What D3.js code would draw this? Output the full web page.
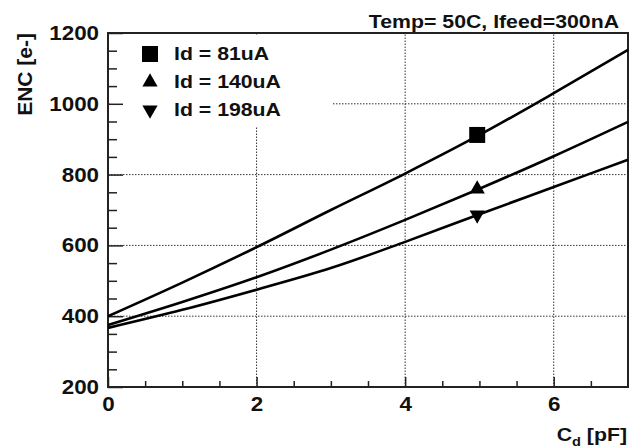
<!DOCTYPE html>
<html>
<head>
<meta charset="utf-8">
<script src="https://cdn.jsdelivr.net/npm/d3@7"></script>
<style>
  html, body { margin: 0; padding: 0; background: #fff; }
  svg { display: block; }
  text { font-family: "Liberation Sans", Arial, sans-serif; font-weight: bold; fill: #111; }
</style>
</head>
<body>
<svg width="640" height="448"></svg>
<script>
// Detector capacitance (pF) and noise readings for each drain current
let cd = [0, 1, 2, 3, 4, 5, 6, 7];
let enc81 = [400, 495, 595, 700, 803, 912, 1030, 1152];
let enc140 = [375, 440, 510, 588, 672, 760, 852, 949];
let enc198 = [367, 418, 475, 536, 610, 688, 765, 842];

// measured points
let markerCd = [4.97, 4.97, 4.97];
let markerEnc = [912, 759, 686];

let seriesNames = ["Id = 81uA", "Id = 140uA", "Id = 198uA"];
let xTicks = [0, 2, 4, 6];
let yTicks = [200, 400, 600, 800, 1000, 1200];

let svg = d3.select("svg");
let stretch = "scale(1.12,1)";

let x = d3.scaleLinear().domain([0, 7]).range([108, 628]);
let y = d3.scaleLinear().domain([200, 1200]).range([387, 33]);

// dotted grid
let grid = svg.append("g")
  .attr("stroke", "#333")
  .attr("stroke-width", 1)
  .attr("stroke-dasharray", "1.5,1.5");

grid.selectAll(".gx")
  .data(xTicks.filter(d => d > 0))
  .enter()
  .append("line")
  .attr("x1", d => x(d))
  .attr("x2", d => x(d))
  .attr("y1", y(200))
  .attr("y2", y(1200));

grid.selectAll(".gy")
  .data(yTicks.filter(d => d > 200 && d < 1200))
  .enter()
  .append("line")
  .attr("x1", x(0))
  .attr("x2", x(7))
  .attr("y1", d => y(d))
  .attr("y2", d => y(d));

// legend background hides the grid behind it
svg.append("rect")
  .attr("x", 110)
  .attr("y", 35)
  .attr("width", 223)
  .attr("height", 91)
  .attr("fill", "#fff");

// axes
let yAxis = svg.append("g")
  .attr("transform", "translate(" + x(0) + ",0)")
  .call(d3.axisLeft(y).tickValues(yTicks).tickFormat(d3.format("d"))
    .tickSizeInner(-15).tickSizeOuter(0).tickPadding(8));

svg.append("g")
  .attr("transform", "translate(" + x(0) + ",0)")
  .call(d3.axisLeft(y).tickValues(d3.range(250, 1200, 50).filter(d => d % 200 != 0))
    .tickSizeInner(-9).tickSizeOuter(0).tickFormat(""));

let xAxis = svg.append("g")
  .attr("transform", "translate(0," + y(200) + ")")
  .call(d3.axisBottom(x).tickValues(xTicks).tickFormat(d3.format("d"))
    .tickSizeInner(-10).tickSizeOuter(0).tickPadding(10));

svg.append("g")
  .attr("transform", "translate(0," + y(200) + ")")
  .call(d3.axisBottom(x).tickValues([0.5, 1, 1.5, 2.5, 3, 3.5, 4.5, 5, 5.5, 6.5])
    .tickSizeInner(-6).tickSizeOuter(0).tickFormat(""));

svg.selectAll(".tick line").attr("stroke", "#222").attr("stroke-width", 1.5);
svg.selectAll(".domain").remove();

yAxis.selectAll("text")
  .attr("font-size", 20)
  .attr("font-family", "Liberation Sans, Arial, sans-serif")
  .attr("transform", stretch);
xAxis.selectAll("text")
  .attr("font-size", 20)
  .attr("font-family", "Liberation Sans, Arial, sans-serif")
  .attr("transform", stretch);

// frame
svg.append("rect")
  .attr("x", x(0))
  .attr("y", y(1200))
  .attr("width", x(7) - x(0))
  .attr("height", y(200) - y(1200))
  .attr("fill", "none")
  .attr("stroke", "#222")
  .attr("stroke-width", 2);

// curves
let line = d3.line()
  .x(d => x(d[0]))
  .y(d => y(d[1]))
  .curve(d3.curveMonotoneX);

[enc81, enc140, enc198].forEach(function(s) {
  svg.append("path")
    .attr("d", line(cd.map((c, i) => [c, s[i]])))
    .attr("fill", "none")
    .attr("stroke", "#000")
    .attr("stroke-width", 2.6);
});

// marker shapes: square, up triangle, down triangle
let shapes = [
  { type: d3.symbolSquare, size: 256, rot: 0 },
  { type: d3.symbolTriangle, size: 100, rot: 0 },
  { type: d3.symbolTriangle, size: 100, rot: 180 }
];

svg.selectAll(".marker")
  .data(markerEnc)
  .enter()
  .append("path")
  .attr("class", "marker")
  .attr("d", (d, i) => d3.symbol().type(shapes[i].type).size(shapes[i].size)())
  .attr("transform", (d, i) => "translate(" + x(markerCd[i]) + "," + y(d) + ") rotate(" + shapes[i].rot + ")")
  .attr("fill", "#000");

// legend
let legend = svg.append("g");
seriesNames.forEach(function(name, i) {
  let cy = 54 + i * 28;
  legend.append("path")
    .attr("d", d3.symbol().type(shapes[i].type).size(shapes[i].size)())
    .attr("transform", "translate(150," + cy + ") rotate(" + shapes[i].rot + ")")
    .attr("fill", "#000");
  legend.append("g")
    .attr("transform", "translate(174," + (cy + 6) + ") " + stretch)
    .append("text")
    .attr("font-size", 19)
    .text(name);
});

// title
svg.append("g")
  .attr("transform", "translate(619,28) " + stretch)
  .append("text")
  .attr("text-anchor", "end")
  .attr("font-size", 19)
  .text("Temp= 50C, Ifeed=300nA");

// axis titles
svg.append("text")
  .attr("transform", "translate(32,33) rotate(-90)")
  .attr("text-anchor", "end")
  .attr("font-size", 21)
  .text("ENC [e-]");

let xTitle = svg.append("g")
  .attr("transform", "translate(627,441) " + stretch)
  .append("text")
  .attr("text-anchor", "end")
  .attr("font-size", 19);
xTitle.append("tspan").text("C");
xTitle.append("tspan").attr("font-size", 13).attr("dy", 5).text("d");
xTitle.append("tspan").attr("dy", -5).text(" [pF]");
</script>
</body>
</html>
